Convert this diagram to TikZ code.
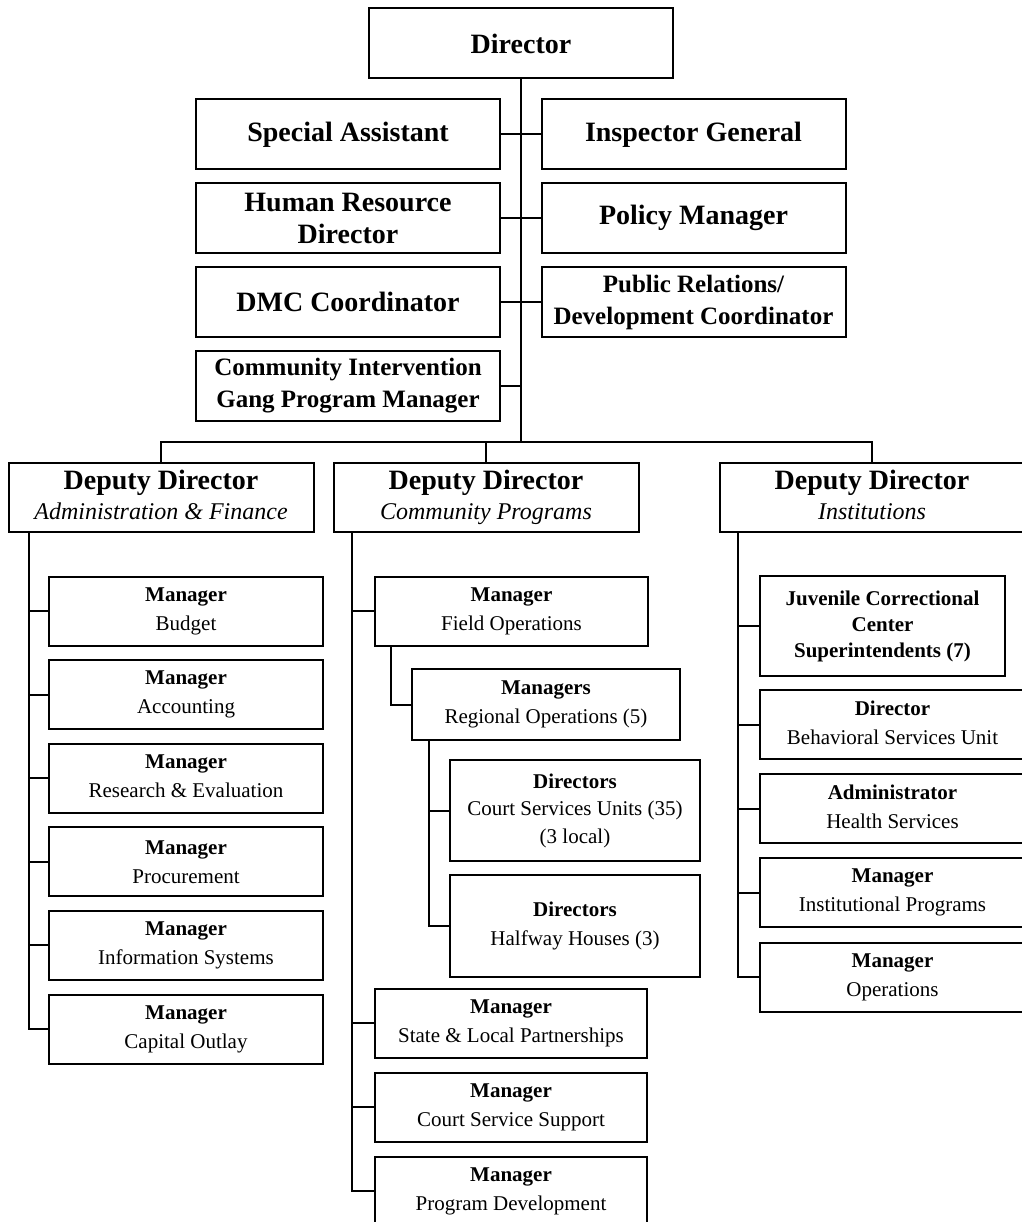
\documentclass[tikz,border=0pt]{standalone}
\usepackage{fontspec}
\setmainfont{Liberation Serif}
\begin{document}
\begin{tikzpicture}[x=1pt,y=-1pt,line width=2pt,
  every node/.style={draw,align=center,inner sep=0pt},
  topbox/.style={minimum width=304pt,minimum height=70pt,font=\fontsize{28}{32}\selectfont\bfseries},
  topsmall/.style={topbox,font=\fontsize{25}{32}\selectfont\bfseries},
  deputy/.style={minimum width=305pt,minimum height=69pt,font=\fontsize{28}{30}\selectfont},
  mgr/.style={minimum height=69pt,font=\fontsize{21}{29}\selectfont}]
  \useasboundingbox (0,0) rectangle (1021,1222);

  \node[topbox] (dir) at (521,43.5) {Director};
  \node[topbox] (sa) at (348,134.5) {Special Assistant};
  \node[topbox] (ig) at (693.5,134.5) {Inspector General};
  \node[topbox] (hr) at (348,218) {Human Resource\\Director};
  \node[topbox] (pm) at (693.5,218) {Policy Manager};
  \node[topbox] (dmc) at (348,302) {DMC Coordinator};
  \node[topsmall] (pr) at (693.5,302) {Public Relations/\\Development Coordinator};
  \node[topsmall] (ci) at (348,386) {Community Intervention\\Gang Program Manager};
  \coordinate (bus) at (521,442);

  \node[deputy] (af) at (161,497.5) {{\bfseries Deputy Director}\\{\fontsize{24}{30}\selectfont\itshape Administration \& Finance\vphantom{gy}}};
  \node[deputy] (cp) at (486,497.5) {{\bfseries Deputy Director}\\{\fontsize{24}{30}\selectfont\itshape Community Programs}};
  \node[deputy] (inst) at (872,497.5) {{\bfseries Deputy Director}\\{\fontsize{24}{30}\selectfont\itshape Institutions\vphantom{gy}}};

  \node[mgr,minimum width=274pt] (bud) at (186,611) {\textbf{Manager}\\Budget};
  \node[mgr,minimum width=274pt] (acc) at (186,694.6) {\textbf{Manager}\\Accounting};
  \node[mgr,minimum width=274pt] (res) at (186,778.2) {\textbf{Manager}\\Research \& Evaluation\vphantom{g}};
  \node[mgr,minimum width=274pt] (proc) at (186,861.8) {\textbf{Manager}\\Procurement};
  \node[mgr,minimum width=274pt] (info) at (186,945.4) {\textbf{Manager}\\Information Systems};
  \node[mgr,minimum width=274pt] (cap) at (186,1029) {\textbf{Manager}\\Capital Outlay};

  \node[mgr,minimum width=273pt] (fo) at (511.5,611) {\textbf{Manager}\\Field Operations};
  \node[mgr,minimum width=268pt,minimum height=71pt] (ro) at (546,704.5) {\textbf{Managers}\\Regional Operations (5)};
  \node[mgr,minimum width=250pt,minimum height=101pt,font=\fontsize{21}{27.5}\selectfont] (csu) at (575,810.5) {\textbf{Directors}\\Court Services Units (35)\\(3 local)};
  \node[mgr,minimum width=250pt,minimum height=102pt] (hh) at (575,926) {\textbf{Directors}\\Halfway Houses (3)};
  \node[mgr,minimum width=272pt] (sl) at (511,1023) {\textbf{Manager}\\State \& Local Partnerships};
  \node[mgr,minimum width=272pt] (css) at (511,1107) {\textbf{Manager}\\Court Service Support};
  \node[mgr,minimum width=272pt] (pd) at (511,1191) {\textbf{Manager}\\Program Development};

  \node[mgr,minimum width=245pt,minimum height=100pt,font=\fontsize{21}{26}\selectfont\bfseries] (jcc) at (882.5,626) {Juvenile Correctional\\Center\\Superintendents (7)};
  \node[mgr,minimum width=265pt] (bsu) at (892.5,724.5) {\textbf{Director}\\Behavioral Services Unit\vphantom{g}};
  \node[mgr,minimum width=265pt] (hs) at (892.5,808.5) {\textbf{Administrator}\\Health Services\vphantom{g}};
  \node[mgr,minimum width=265pt] (ip) at (892.5,892.5) {\textbf{Manager}\\Institutional Programs};
  \node[mgr,minimum width=265pt] (ops) at (892.5,977) {\textbf{Manager}\\Operations};

  \draw (dir.south) -- (bus);
  \draw (sa.east) -- (ig.west);
  \draw (hr.east) -- (pm.west);
  \draw (dmc.east) -- (pr.west);
  \draw (ci.east) -- (ci.east -| bus);
  \draw (af.north) |- (bus) -| (inst.north);
  \draw (cp.north) -- (cp.north |- bus);

  \coordinate (afbus) at ([xshift=21pt]af.south west);
  \draw (afbus) |- (cap.west);
  \draw (afbus |- bud.west) -- (bud.west);
  \draw (afbus |- acc.west) -- (acc.west);
  \draw (afbus |- res.west) -- (res.west);
  \draw (afbus |- proc.west) -- (proc.west);
  \draw (afbus |- info.west) -- (info.west);

  \coordinate (cpbus) at ([xshift=19pt]cp.south west);
  \draw (cpbus) |- (pd.west);
  \draw (cpbus |- fo.west) -- (fo.west);
  \draw (cpbus |- sl.west) -- (sl.west);
  \draw (cpbus |- css.west) -- (css.west);
  \draw ([xshift=17pt]fo.south west) |- (ro.west);
  \coordinate (robus) at ([xshift=18pt]ro.south west);
  \draw (robus) |- (hh.west);
  \draw (robus |- csu.west) -- (csu.west);

  \coordinate (inbus) at ([xshift=19pt]inst.south west);
  \draw (inbus) |- (ops.west);
  \draw (inbus |- jcc.west) -- (jcc.west);
  \draw (inbus |- bsu.west) -- (bsu.west);
  \draw (inbus |- hs.west) -- (hs.west);
  \draw (inbus |- ip.west) -- (ip.west);
\end{tikzpicture}
\end{document}
